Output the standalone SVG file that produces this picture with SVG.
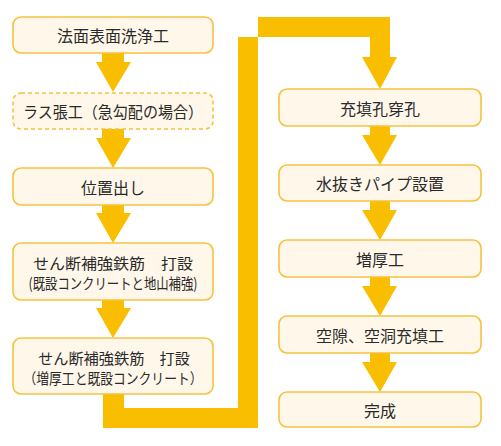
<svg xmlns="http://www.w3.org/2000/svg" width="501" height="446" viewBox="0 0 501 446">
<defs>
<style>
.box{fill:#FFF8EA;stroke:#F5C240;stroke-width:1.6}
.dash{stroke-dasharray:4 3}
.arr{fill:#F9BE00}
text{font-family:"Noto Sans CJK JP","Noto Sans",sans-serif;font-size:16px;fill:#2a2a2a;text-anchor:middle;dominant-baseline:central}
.sm{font-size:15px}
</style>
</defs>
<rect width="501" height="446" fill="#fff"/>
<g id="connectors">
<polygon class="arr" points="102,53 124,53 124,62 131,62 113,92 96,62 102,62"/>
<polygon class="arr" points="102,129 124,129 124,138 131,138 113,168 96,138 102,138"/>
<polygon class="arr" points="102,205 124,205 124,213 131,213 113,243 96,213 102,213"/>
<polygon class="arr" points="102,300 124,300 124,308 131,308 113,338 96,308 102,308"/>
<polygon class="arr" points="103,394 124,394 124,408 238,408 238,37 370,37 370,57 362,57 380,89 397,57 390,57 390,17 258,17 258,428 103,428"/>
<polygon class="arr" points="370,126 390,126 390,135 397,135 380,165 362,135 370,135"/>
<polygon class="arr" points="370,201 390,201 390,210 397,210 380,240 362,210 370,210"/>
<polygon class="arr" points="370,277 390,277 390,286 397,286 380,316 362,286 370,286"/>
<polygon class="arr" points="370,353 390,353 390,362 397,362 380,392 362,362 370,362"/>
</g>
<g id="n1"><rect class="box" x="13" y="17" width="200" height="36" rx="8"/><text x="113" y="35">法面表面洗浄工</text></g>
<g id="n2"><rect class="box dash" x="13" y="93" width="200" height="36" rx="8"/><text x="113" y="111" textLength="180" lengthAdjust="spacingAndGlyphs">ラス張工（急勾配の場合）</text></g>
<g id="n3"><rect class="box" x="13" y="168" width="200" height="37" rx="8"/><text x="113" y="186.5">位置出し</text></g>
<g id="n4"><rect class="box" x="13" y="243" width="200" height="57" rx="8"/><text class="sm" x="113" y="262.5" textLength="160" lengthAdjust="spacingAndGlyphs">せん断補強鉄筋　打設</text><text class="sm" x="113" y="282" textLength="169" lengthAdjust="spacingAndGlyphs">(既設コンクリートと地山補強)</text></g>
<g id="n5"><rect class="box" x="13" y="338" width="200" height="56" rx="8"/><text class="sm" x="114" y="357.5" textLength="152" lengthAdjust="spacingAndGlyphs">せん断補強鉄筋　打設</text><text class="sm" x="113" y="377" textLength="179" lengthAdjust="spacingAndGlyphs">（増厚工と既設コンクリート）</text></g>
<g id="r1"><rect class="box" x="279" y="89" width="202" height="37" rx="8"/><text x="380" y="107.5">充填孔穿孔</text></g>
<g id="r2"><rect class="box" x="279" y="165" width="202" height="36" rx="8"/><text x="380" y="183">水抜きパイプ設置</text></g>
<g id="r3"><rect class="box" x="279" y="240" width="202" height="37" rx="8"/><text x="380" y="258.5">増厚工</text></g>
<g id="r4"><rect class="box" x="279" y="316" width="202" height="37" rx="8"/><text x="380" y="334.5">空隙、空洞充填工</text></g>
<g id="r5"><rect class="box" x="279" y="392" width="202" height="35" rx="8"/><text x="380" y="409.5">完成</text></g>
</svg>
